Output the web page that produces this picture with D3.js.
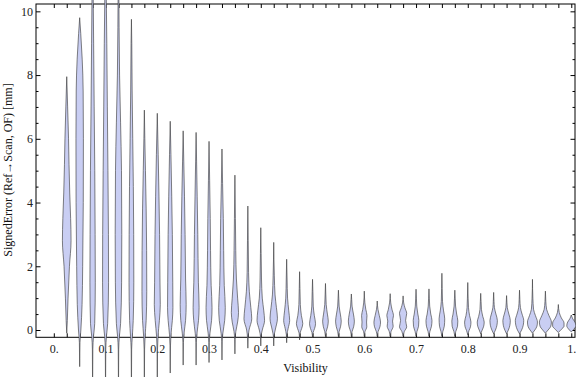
<!DOCTYPE html>
<html><head><meta charset="utf-8">
<script src="https://cdn.jsdelivr.net/npm/d3@7"></script>
<style>body{margin:0;background:#fff}svg{display:block}</style>
</head><body>
<svg id="c" width="576" height="377"></svg>
<script>
// ---- data ----
const visibility = [0.025,0.05,0.075,0.1,0.125,0.15,0.175,0.2,0.225,0.25,
  0.275,0.3,0.325,0.35,0.375,0.4,0.425,0.45,0.475,0.5,
  0.525,0.55,0.575,0.6,0.625,0.65,0.675,0.7,0.725,0.75,
  0.775,0.8,0.825,0.85,0.875,0.9,0.925,0.95,0.975,1.0];
// each profile: [signed error (mm), relative density]
const profiles = [
 [[-0.1,0],[0.3,0.1],[1,0.22],[2,0.45],[2.8,0.72],[3.5,0.65],[4.3,0.5],[5.2,0.38],[6,0.3],[7,0.15],[7.95,0]],
 [[-1.15,0],[-0.4,0.05],[0,0.2],[0.8,0.4],[2,0.5],[4,0.6],[6,0.62],[7.5,0.58],[8.5,0.42],[9.3,0.18],[9.8,0]],
 [[-2,0],[-0.6,0.04],[-0.2,0.15],[0.2,0.35],[1.5,0.45],[3,0.42],[5,0.36],[7,0.26],[9,0.17],[10.5,0.1],[11.5,0]],
 [[-2,0],[-0.6,0.04],[-0.2,0.15],[0.2,0.35],[1.5,0.5],[3,0.48],[5,0.4],[7,0.3],[9,0.21],[10.5,0.12],[11.5,0]],
 [[-2,0],[-0.6,0.04],[-0.2,0.15],[0.2,0.35],[1.5,0.52],[3,0.55],[5,0.5],[6.5,0.35],[8,0.18],[9.5,0.1],[11,0.05],[11.5,0]],
 [[-2,0],[-0.6,0.04],[-0.2,0.15],[0.3,0.3],[1.5,0.4],[3,0.38],[4.5,0.32],[6,0.22],[7.5,0.12],[9,0.06],[9.75,0]],
 [[-1.8,0],[-0.6,0.04],[-0.2,0.12],[0.3,0.3],[1.2,0.4],[2.5,0.38],[3.8,0.3],[5,0.18],[6,0.08],[6.9,0]],
 [[-1.7,0],[-0.6,0.04],[-0.2,0.12],[0.3,0.35],[0.8,0.5],[1.5,0.45],[3,0.38],[4.2,0.28],[5.5,0.15],[6.8,0]],
 [[-1.35,0],[-0.5,0.04],[-0.15,0.12],[0.3,0.35],[0.7,0.45],[1.5,0.42],[3,0.35],[4.2,0.25],[5.5,0.12],[6.55,0]],
 [[-1.1,0],[-0.4,0.04],[-0.1,0.15],[0.3,0.4],[0.8,0.5],[1.6,0.4],[3,0.32],[4.2,0.22],[5.3,0.1],[6.25,0]],
 [[-1.1,0],[-0.4,0.04],[-0.1,0.15],[0.3,0.4],[0.7,0.5],[1.5,0.38],[3,0.28],[4.2,0.18],[5.3,0.08],[6.2,0]],
 [[-1.02,0],[-0.4,0.04],[-0.1,0.15],[0.3,0.42],[0.7,0.5],[1.4,0.35],[2.5,0.25],[3.5,0.2],[4.7,0.1],[5.92,0]],
 [[-0.94,0],[-0.35,0.04],[-0.1,0.15],[0.3,0.45],[0.7,0.55],[1.4,0.38],[2.5,0.28],[3.5,0.22],[4.6,0.1],[5.68,0]],
 [[-0.75,0],[-0.3,0.04],[-0.05,0.15],[0.25,0.45],[0.55,0.6],[1,0.45],[1.6,0.25],[2.5,0.14],[3.5,0.08],[4.86,0]],
 [[-0.57,0],[-0.25,0.05],[0,0.2],[0.35,0.65],[0.7,0.5],[1.2,0.25],[1.8,0.12],[2.8,0.06],[3.89,0]],
 [[-0.5,0],[-0.2,0.05],[0,0.25],[0.3,0.63],[0.6,0.5],[1,0.25],[1.6,0.12],[2.4,0.06],[3.21,0]],
 [[-0.5,0],[-0.2,0.05],[0,0.25],[0.37,0.62],[0.7,0.45],[1.1,0.22],[1.7,0.1],[2.75,0]],
 [[-0.4,0],[-0.15,0.05],[0.05,0.25],[0.3,0.5],[0.6,0.35],[1,0.15],[1.6,0.07],[2.22,0]],
 [[-0.31,0],[-0.1,0.08],[0.05,0.35],[0.2,0.53],[0.45,0.3],[0.8,0.12],[1.3,0.06],[1.83,0]],
 [[-0.25,0],[-0.08,0.1],[0.05,0.35],[0.2,0.5],[0.45,0.3],[0.75,0.12],[1.2,0.06],[1.59,0]],
 [[-0.2,0],[-0.05,0.12],[0.1,0.35],[0.28,0.47],[0.5,0.32],[0.8,0.12],[1.1,0.06],[1.46,0]],
 [[-0.2,0],[-0.05,0.12],[0.1,0.35],[0.28,0.47],[0.5,0.32],[0.75,0.12],[1,0.06],[1.25,0]],
 [[-0.2,0],[-0.05,0.12],[0.1,0.38],[0.28,0.5],[0.5,0.35],[0.75,0.12],[0.95,0.06],[1.13,0]],
 [[-0.2,0],[-0.05,0.12],[0.1,0.42],[0.25,0.38],[0.45,0.45],[0.65,0.25],[0.85,0.1],[1.22,0]],
 [[-0.2,0],[-0.05,0.15],[0.1,0.45],[0.25,0.55],[0.45,0.35],[0.65,0.12],[0.91,0]],
 [[-0.2,0],[-0.05,0.15],[0.12,0.5],[0.28,0.4],[0.45,0.55],[0.65,0.3],[0.85,0.1],[1.14,0]],
 [[-0.2,0],[-0.05,0.2],[0.1,0.6],[0.3,0.42],[0.52,0.6],[0.7,0.3],[0.85,0.1],[1.07,0]],
 [[-0.2,0],[-0.05,0.15],[0.12,0.42],[0.3,0.47],[0.5,0.3],[0.75,0.12],[1,0.06],[1.28,0]],
 [[-0.2,0],[-0.05,0.15],[0.12,0.42],[0.3,0.5],[0.5,0.3],[0.75,0.12],[1,0.06],[1.29,0]],
 [[-0.2,0],[-0.05,0.15],[0.12,0.4],[0.35,0.47],[0.6,0.28],[0.9,0.1],[1.3,0.05],[1.78,0]],
 [[-0.2,0],[-0.05,0.15],[0.12,0.45],[0.28,0.5],[0.5,0.3],[0.75,0.12],[1,0.06],[1.25,0]],
 [[-0.15,0],[-0.02,0.2],[0.1,0.45],[0.25,0.53],[0.45,0.3],[0.7,0.12],[1,0.06],[1.49,0]],
 [[-0.12,0],[0,0.25],[0.12,0.5],[0.25,0.58],[0.42,0.35],[0.65,0.12],[0.9,0.06],[1.15,0]],
 [[-0.12,0],[0,0.3],[0.15,0.55],[0.3,0.62],[0.5,0.38],[0.7,0.13],[0.9,0.06],[1.18,0]],
 [[-0.12,0],[0,0.3],[0.15,0.55],[0.3,0.62],[0.5,0.38],[0.7,0.12],[0.85,0.06],[1.08,0]],
 [[-0.12,0],[0,0.35],[0.15,0.62],[0.3,0.7],[0.5,0.42],[0.7,0.15],[0.95,0.06],[1.25,0]],
 [[-0.1,0],[0,0.4],[0.12,0.75],[0.25,0.83],[0.45,0.5],[0.65,0.18],[1,0.07],[1.59,0]],
 [[-0.1,0],[0,0.45],[0.12,0.9],[0.25,1.0],[0.45,0.6],[0.65,0.2],[0.9,0.07],[1.22,0]],
 [[-0.08,0],[0.02,0.5],[0.12,0.95],[0.22,0.95],[0.38,0.5],[0.55,0.15],[0.8,0]],
 [[-0.06,0],[0.03,0.45],[0.13,0.75],[0.25,0.6],[0.35,0.25],[0.47,0]]
];
const xTickValues = [0,0.1,0.2,0.3,0.4,0.5,0.6,0.7,0.8,0.9,1.0];
const xTickLabels = ["0.","0.1","0.2","0.3","0.4","0.5","0.6","0.7","0.8","0.9","1."];
const yTickValues = [0,2,4,6,8,10];
const yTickLabels = ["0","2","4","6","8","10"];
const xTitle = "Visibility";
const yTitle = "SignedError (Ref\u2192Scan, OF) [mm]";

// ---- layout ----
const L = 36, R = 575, T = 4, B = 337.3;
const svg = d3.select("#c");
const font = "'Liberation Serif','Times New Roman',serif";

const x = d3.scaleLinear().domain([-0.0344, 1.0072]).range([L, R]);
const y = d3.scaleLinear().domain([-0.229, 10.23]).range([B, T]);
const w = d3.scaleLinear().domain([0, 1]).range([0, 6]);

const xMinor = d3.range(0, 1.0001, 0.025).map(v => +v.toFixed(3));
const yMinor = d3.range(0.5, 10, 0.5).filter(v => v % 2 !== 0);

function styleAxis(g) {
  g.select(".domain").remove();
  g.selectAll("line").attr("stroke", "#000").attr("stroke-width", 1);
  g.selectAll("text").attr("font-family", font).attr("font-size", 12).attr("fill", "#222");
}
// bottom
svg.append("g").attr("transform", `translate(0,${B})`)
  .call(d3.axisBottom(x).tickValues(xMinor).tickSizeInner(-4).tickSizeOuter(0).tickPadding(7)
    .tickFormat(v => { const i = xTickValues.findIndex(t => Math.abs(t - v) < 1e-6); return i >= 0 ? xTickLabels[i] : ""; }))
  .call(styleAxis);
// top
svg.append("g").attr("transform", `translate(0,${T})`)
  .call(d3.axisTop(x).tickValues(xMinor).tickSizeInner(-4).tickSizeOuter(0).tickFormat(""))
  .call(styleAxis);
// left major / minor
svg.append("g").attr("transform", `translate(${L},0)`)
  .call(d3.axisLeft(y).tickValues(yTickValues).tickSizeInner(-4.5).tickSizeOuter(0).tickPadding(3)
    .tickFormat((v, i) => yTickLabels[i]))
  .call(styleAxis);
svg.append("g").attr("transform", `translate(${L},0)`)
  .call(d3.axisLeft(y).tickValues(yMinor).tickSizeInner(-2.5).tickSizeOuter(0).tickFormat(""))
  .call(styleAxis);
// right major / minor
svg.append("g").attr("transform", `translate(${R},0)`)
  .call(d3.axisRight(y).tickValues(yTickValues).tickSizeInner(-4.5).tickSizeOuter(0).tickFormat(""))
  .call(styleAxis);
svg.append("g").attr("transform", `translate(${R},0)`)
  .call(d3.axisRight(y).tickValues(yMinor).tickSizeInner(-2.5).tickSizeOuter(0).tickFormat(""))
  .call(styleAxis);

// frame
svg.append("rect").attr("x", L).attr("y", T).attr("width", R - L).attr("height", B - T)
  .attr("fill", "none").attr("stroke", "#000").attr("stroke-width", 1);

// violins
const area = d3.area()
  .curve(d3.curveMonotoneY)
  .y(d => y(d[0]));
svg.append("g").selectAll("path").data(visibility).join("path")
  .attr("d", (v, i) => area
      .x0(d => x(v) - w(d[1]))
      .x1(d => x(v) + w(d[1]))(profiles[i]))
  .attr("fill", "#c9cef3")
  .attr("stroke", "#3a3a3a")
  .attr("stroke-opacity", 0.7)
  .attr("stroke-width", 0.9);

// titles
svg.append("text").attr("x", (L + R) / 2).attr("y", 372).attr("text-anchor", "middle")
  .attr("font-family", font).attr("font-size", 12).attr("fill", "#111").text(xTitle);
svg.append("text").attr("transform", "translate(8,170) rotate(-90)").attr("dy", "0.35em")
  .attr("text-anchor", "middle").attr("font-family", font).attr("font-size", 12)
  .attr("fill", "#111").text(yTitle);
</script>
</body></html>
